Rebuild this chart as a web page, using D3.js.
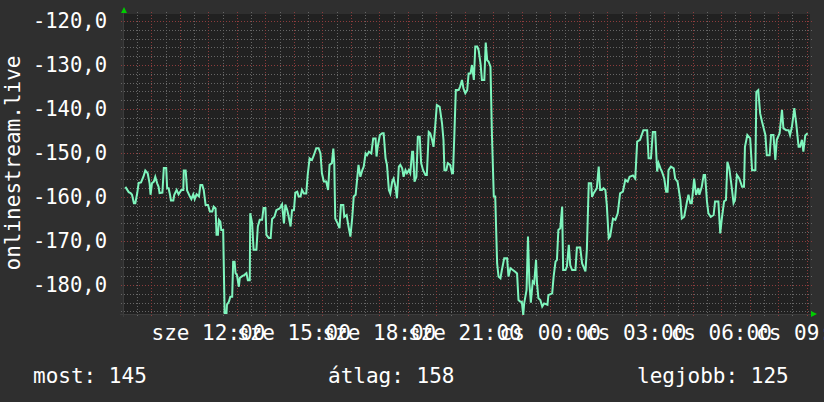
<!DOCTYPE html>
<html>
<head>
<meta charset="utf-8">
<title>onlinestream.live</title>
<script src="https://cdn.jsdelivr.net/npm/d3@7/dist/d3.min.js"></script>
<style>
  html, body { margin: 0; padding: 0; background: #2f2f2f; }
  svg { display: block; }
  text { font-family: "DejaVu Sans Mono", monospace; fill: #ffffff; }
</style>
</head>
<body>
<svg id="graph"></svg>
<script>

// minutes after "sze 09:00"
var times = [5,12,16,19,23,26,30,33,38,43,47,52,56,58,61,65,68,72,75,77,83,86,91,93,96,99,101,106,108,113,117,123,127,128,132,134,135,141,144,148,151,155,160,163,167,170,174,179,183,188,191,195,197,200,202,205,207,211,214,218,219,223,226,230,232,235,237,240,244,246,251,256,260,263,267,268,272,275,281,284,288,293,296,300,302,307,311,314,319,323,330,335,339,342,346,349,353,356,360,363,367,370,
  374,377,381,386,389,393,398,402,407,412,416,419,423,428,432,435,440,443,445,447,452,456,459,464,466,471,475,479,483,486,490,493,496,500,504,507,511,514,518,523,527,532,534,536,541,546,549,553,556,560,563,567,570,574,577,581,584,588,591,595,598,602,605,609,611,614,618,621,625,628,632,637,640,644,647,651,654,658,661,667,672,675,677,681,684,689,693,695,698,701,707,710,714,717,721,725,728,732,735,739,742,746,749,753,756,761,764,767,770,774,777,781,784,788,791,795,798,803,809,812,816,821,826,830,833,837,840,843,845,850,853,856,859,863,866,870,872,875,879,
  883,887,894,896,904,907,911,914,917,921,925,927,932,935,939,942,946,953,956,963,967,974,977,981,986,988,991,998,1002,1005,1009,1012,1016,1019,1023,1026,1032,1037,1042,1047,1053,1058,1063,1067,1074,1079,1083,1089,1096,1104,1107,1112,1116,1121,1125,1128,1132,1135,1140,1144,1147,1149,1154,1160,1163,1168,1174,1177,1182,1188,1191,1195,1198,1203,1207,1212,1214,1219,1223,1226,1230,1233,1238,1244,1247,1254,1258,1261,1266,1270,1273,1277,1282,1286,1289,1293,1298,1304,1308,1310,1315,1321,1325,1332,1334,1338,1342,1346,1353,1356,1362,1365,1370,1374,1377,1383,1388,1391,1397,1402,1405,1409,1414,1418,1423,1426,1430,1433,1437,1442]

var values = [-157.7,-158.9,-159.1,-159.5,-161.4,-161.4,-159.1,-156.8,-156.7,-155.4,-154,-154.6,-156.9,-159.5,-156.9,-156.5,-155.4,-156.9,-157.7,-159.1,-159,-153.4,-153.4,-158,-158,-159.5,-160.8,-160.8,-159.5,-158.4,-159.4,-158.4,-158.4,-154,-154,-156.9,-158.5,-159.9,-160.5,-159.4,-160.5,-159.4,-159.9,-157.3,-157.3,-158.4,-161.8,-161.8,-163.3,-163.3,-162.2,-162.6,-168.6,-168.6,-165.2,-165.6,-167.5,-167.5,-186.4,-186.4,-184.5,-183.8,-182.7,-182.7,-174.7,-174.7,-177.3,-177.7,-180.4,-178.4,-178,-177.7,-177.3,-178.9,-178.9,-163.7,-166,-172,-172,-166.7,-165.2,-165.2,-162.5,-162.5,-168.6,-169.3,-169.3,-165,-164.5,-163,-162.6,-161.7,-166,-161.7,-163,-164.5,-166.7,-163,-163,-159,-158.8,-159.9,
  -159.9,-158.4,-159.2,-159.2,-155,-151.2,-151.6,-150.5,-148.9,-148.9,-150.1,-154.6,-156.5,-156.5,-158.4,-152.7,-152.3,-149,-152.3,-164.9,-166,-167.1,-161.8,-161.8,-164.5,-164.1,-166.7,-169,-164.5,-159.9,-159.5,-156.1,-152.7,-155.4,-153.9,-153.1,-150.1,-150.5,-149.7,-150.1,-146.7,-146.7,-150.8,-148.9,-145.9,-145.5,-145.5,-151.2,-152.7,-158.4,-159.2,-156.5,-155.8,-157.7,-160.3,-153.1,-152.7,-153.5,-155.4,-153.9,-154.6,-153.9,-154.6,-149.7,-149.7,-156.5,-155.4,-146.3,-146.3,-152.3,-153.9,-155,-155,-145.2,-145.5,-147,-148.6,-143.3,-139.1,-139.5,-143.3,-147,-153.9,-153.9,-152.3,-152.7,-154.6,-154.6,-145.7,-135.7,-135.7,-134.9,-133.4,-135.3,-136.4,-135.7,-131.9,-131.9,-130,-133.4,-125.8,-125.8,-126.6,-129.6,-133.4,-133.4,-124.9,-128.9,-129.2,-130.4,-145.5,-159.9,-159.9,-175.1,-178.1,-178.5,-176.6,-173.9,-173.9,-178.1,-176.2,-176.6,-177,-177.4,-183.4,-183.8,-183.8,-186.8,-184.2,-181.1,-169,-179.6,-184,-179.2,-179.6,-174.3,-179.6,-183,-183.4,
  -184.9,-184.2,-184.5,-182.3,-181.9,-178.1,-174.7,-174.3,-167.5,-167.1,-162.2,-176.6,-176.6,-175.8,-170.9,-175.5,-176.6,-176.6,-171.5,-171.5,-175.1,-176.9,-172,-156.9,-156.9,-160,-159.2,-158,-153.1,-158.4,-158.4,-158,-158.4,-161.8,-169.4,-169,-164.9,-165.2,-163.7,-159.2,-158.8,-156.1,-156.5,-155.4,-155.1,-155.8,-147.4,-147,-144.8,-144.8,-151.2,-151.2,-145.2,-145.2,-154.2,-152.3,-153.5,-154.2,-155.8,-158.8,-158.8,-153.9,-153.1,-153.5,-155.8,-156.5,-160.7,-164.9,-164.5,-161,-159.5,-161.4,-161.4,-155.8,-159.5,-158,-159.5,-157.7,-155,-155,-161,-163.7,-164.5,-164.1,-161,-161,-168.3,-165.2,-161,-160.7,-152,-153.5,-157.7,-161.4,-160.7,-155,-155.8,-157.7,-157.7,-148.6,-145.9,-146.7,-153.9,-153.9,-136.1,-135.7,-141,-142.9,-145.9,-150.5,-150.5,-145.9,-145.9,-151.6,-147,-145.5,-140.2,-144.4,-144.8,-144.8,-145.9,-144,-139.8,-143.3,-148.6,-148.6,-147,-149.7,-146,-145.5]

var dayNames = ["v", "h", "k", "sze", "cs", "p", "szo"]
var yTicks = [-180, -170, -160, -150, -140, -130, -120]
var legend = [["most:", 145], ["átlag:", 158], ["legjobb:", 125]]

var width = 824
var height = 402
var plot = {left: 123, right: 810, top: 14, bottom: 314}

var start = new Date(2024, 0, 3, 9, 0)   // a Wednesday (szerda)
var end = new Date(2024, 0, 4, 9, 7)

var points = times.map(function(m, i) {
  return {t: new Date(start.getTime() + m * 60000), v: values[i]}
})

var x = d3.scaleTime().domain([start, end]).range([plot.left, plot.right])
var y = d3.scaleLinear().domain([-186.6, -118.4]).range([plot.bottom, plot.top])

var svg = d3.select("svg")
  .attr("width", width)
  .attr("height", height)

svg.append("rect")
  .attr("width", width).attr("height", height)
  .attr("fill", "#2f2f2f")

svg.append("rect")
  .attr("x", plot.left).attr("y", plot.top)
  .attr("width", plot.right - plot.left).attr("height", plot.bottom - plot.top)
  .attr("fill", "#212121")

var grid = svg.append("g").attr("class", "grid")
var minorColor = "#666666"
var majorColor = "#8c3c3c"

// minor grid: every 30 minutes, every 2 units
var halfHours = d3.timeMinute.every(30).range(start, end)
var minorY = d3.range(-186, -118, 2)

grid.selectAll("line.vminor")
  .data(halfHours.filter(function(d) { return d.getMinutes() == 30 }))
  .enter().append("line")
  .attr("x1", function(d) { return Math.round(x(d)) + 0.5 })
  .attr("x2", function(d) { return Math.round(x(d)) + 0.5 })
  .attr("y1", plot.top - 2).attr("y2", plot.bottom + 2)
  .attr("stroke", minorColor).attr("stroke-dasharray", "1,2")

grid.selectAll("line.hminor")
  .data(minorY.filter(function(d) { return d % 10 != 0 }))
  .enter().append("line")
  .attr("y1", function(d) { return Math.round(y(d)) + 0.5 })
  .attr("y2", function(d) { return Math.round(y(d)) + 0.5 })
  .attr("x1", plot.left - 2).attr("x2", plot.right + 2)
  .attr("stroke", minorColor).attr("stroke-dasharray", "1,2")

// major grid: every hour, every 10 units
grid.selectAll("line.vmajor")
  .data(d3.timeHour.range(d3.timeHour.offset(start, 1), end))
  .enter().append("line")
  .attr("x1", function(d) { return Math.round(x(d)) + 0.5 })
  .attr("x2", function(d) { return Math.round(x(d)) + 0.5 })
  .attr("y1", plot.top - 2).attr("y2", plot.bottom + 2)
  .attr("stroke", majorColor).attr("stroke-dasharray", "1,2")

grid.selectAll("line.hmajor")
  .data(yTicks)
  .enter().append("line")
  .attr("y1", function(d) { return Math.round(y(d)) + 0.5 })
  .attr("y2", function(d) { return Math.round(y(d)) + 0.5 })
  .attr("x1", plot.left - 2).attr("x2", plot.right + 2)
  .attr("stroke", majorColor).attr("stroke-dasharray", "1,2")

// axes
svg.append("line")
  .attr("x1", plot.left - 3).attr("x2", plot.right + 2)
  .attr("y1", plot.bottom + 0.5).attr("y2", plot.bottom + 0.5)
  .attr("stroke", "#3c3c3c")
svg.append("line")
  .attr("x1", plot.left + 0.5).attr("x2", plot.left + 0.5)
  .attr("y1", plot.top - 2).attr("y2", plot.bottom + 3)
  .attr("stroke", "#3c3c3c")

svg.append("path")
  .attr("d", "M" + (plot.left - 2) + "," + (plot.top - 1) + "l3,-6l3,6z")
  .attr("fill", "#00cc00")
svg.append("path")
  .attr("d", "M" + (plot.right + 1) + "," + (plot.bottom - 3) + "l6,3l-6,3z")
  .attr("fill", "#00cc00")

// data line
var line = d3.line()
  .x(function(d) { return x(d.t) })
  .y(function(d) { return y(d.v) })

svg.append("path")
  .datum(points)
  .attr("d", line)
  .attr("fill", "none")
  .attr("stroke", "#7ff5bd")
  .attr("stroke-width", 2)
  .attr("stroke-linejoin", "miter")

// y labels
svg.append("g").selectAll("text")
  .data(yTicks)
  .enter().append("text")
  .attr("x", 107)
  .attr("y", function(d) { return y(d) })
  .attr("dy", "0.35em")
  .attr("text-anchor", "end")
  .style("font-size", "20.5px")
  .text(function(d) { return d.toFixed(1).replace(".", ",") })

// x labels, every 3 hours (they overlap in the original as well)
var labelTimes = d3.timeHour.every(3).range(d3.timeHour.offset(start, 3), d3.timeHour.offset(end, 1))
svg.append("g").selectAll("text")
  .data(labelTimes)
  .enter().append("text")
  .attr("x", function(d) { return x(d) })
  .attr("y", 340)
  .attr("text-anchor", "middle")
  .style("font-size", "21px")
  .text(function(d) { return dayNames[d.getDay()] + " " + d3.timeFormat("%H:%M")(d) })

// y title
svg.append("text")
  .attr("transform", "translate(20,163) rotate(-90)")
  .attr("text-anchor", "middle")
  .style("font-size", "21px")
  .text("onlinestream.live")

// legend
var legendX = [33, 328, 637]
svg.append("g").selectAll("text")
  .data(legend)
  .enter().append("text")
  .attr("x", function(d, i) { return legendX[i] })
  .attr("y", 383)
  .style("font-size", "21px")
  .text(function(d) { return d[0] + " " + d[1] })

</script>
</body>
</html>
